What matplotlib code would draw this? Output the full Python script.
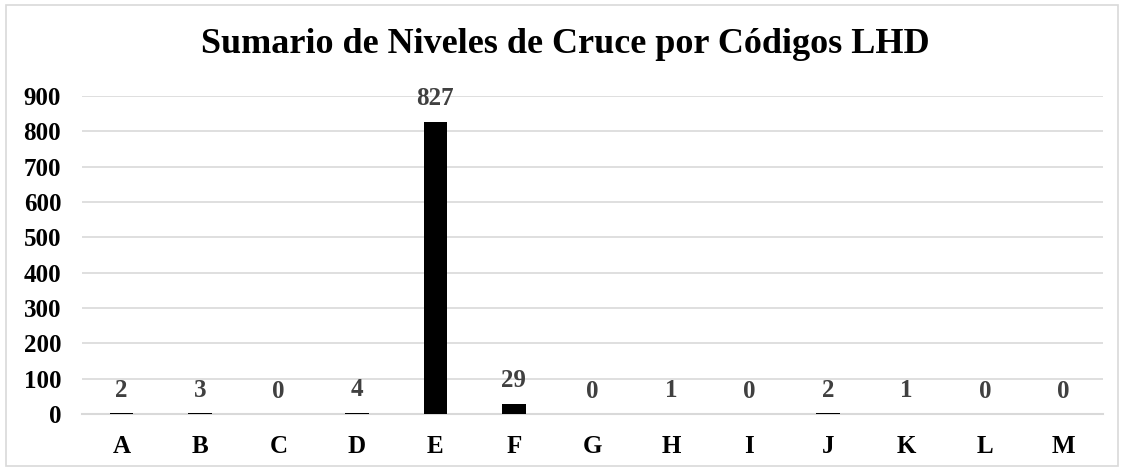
import matplotlib.pyplot as plt
from matplotlib.patches import Rectangle

categories = ["A", "B", "C", "D", "E", "F", "G", "H", "I", "J", "K", "L", "M"]
values = [2, 3, 0, 4, 827, 29, 0, 1, 0, 2, 1, 0, 0]
yticks = [0, 100, 200, 300, 400, 500, 600, 700, 800, 900]

plt.rcParams['font.family'] = ['Liberation Serif', 'DejaVu Serif']
plt.rcParams['font.weight'] = 'bold'

fig = plt.figure(figsize=(11.24, 4.71), dpi=100)
ax = fig.add_axes([0.073, 0.121, 0.908, 0.675])

x = range(len(categories))
bars = ax.bar(x, values, width=0.3, color="black", zorder=3)

for xi, v in zip(x, values):
    ax.annotate(str(v), (xi, v), xytext=(0, 16.5), textcoords="offset points",
                ha="center", va="center", fontsize=18, fontweight="bold",
                color="#404040")

ax.set_xlim(-0.5, len(categories) - 0.5)
ax.set_ylim(0, 900)
ax.set_yticks(yticks)
ax.set_xticks(list(x))
ax.set_xticklabels(categories)
ax.tick_params(axis="both", length=0, labelsize=18)
ax.tick_params(axis="y", pad=15)
ax.tick_params(axis="x", pad=15)
for lab in ax.get_xticklabels() + ax.get_yticklabels():
    lab.set_fontweight("bold")

ax.grid(axis="y", color="#d9d9d9", linewidth=1.2, zorder=0)
for s in ["top", "right", "left"]:
    ax.spines[s].set_visible(False)
ax.spines["bottom"].set_color("#d9d9d9")
ax.spines["bottom"].set_linewidth(1.5)

fig.text(0.503, 0.905, "Sumario de Niveles de Cruce por Códigos LHD",
         ha="center", va="center", fontsize=26, fontweight="bold")

fig.patches.append(Rectangle((0.005, 0.01), 0.99, 0.98, transform=fig.transFigure,
                             fill=False, edgecolor="#d9d9d9", linewidth=1.2))

fig.savefig("out.png", dpi=100)
